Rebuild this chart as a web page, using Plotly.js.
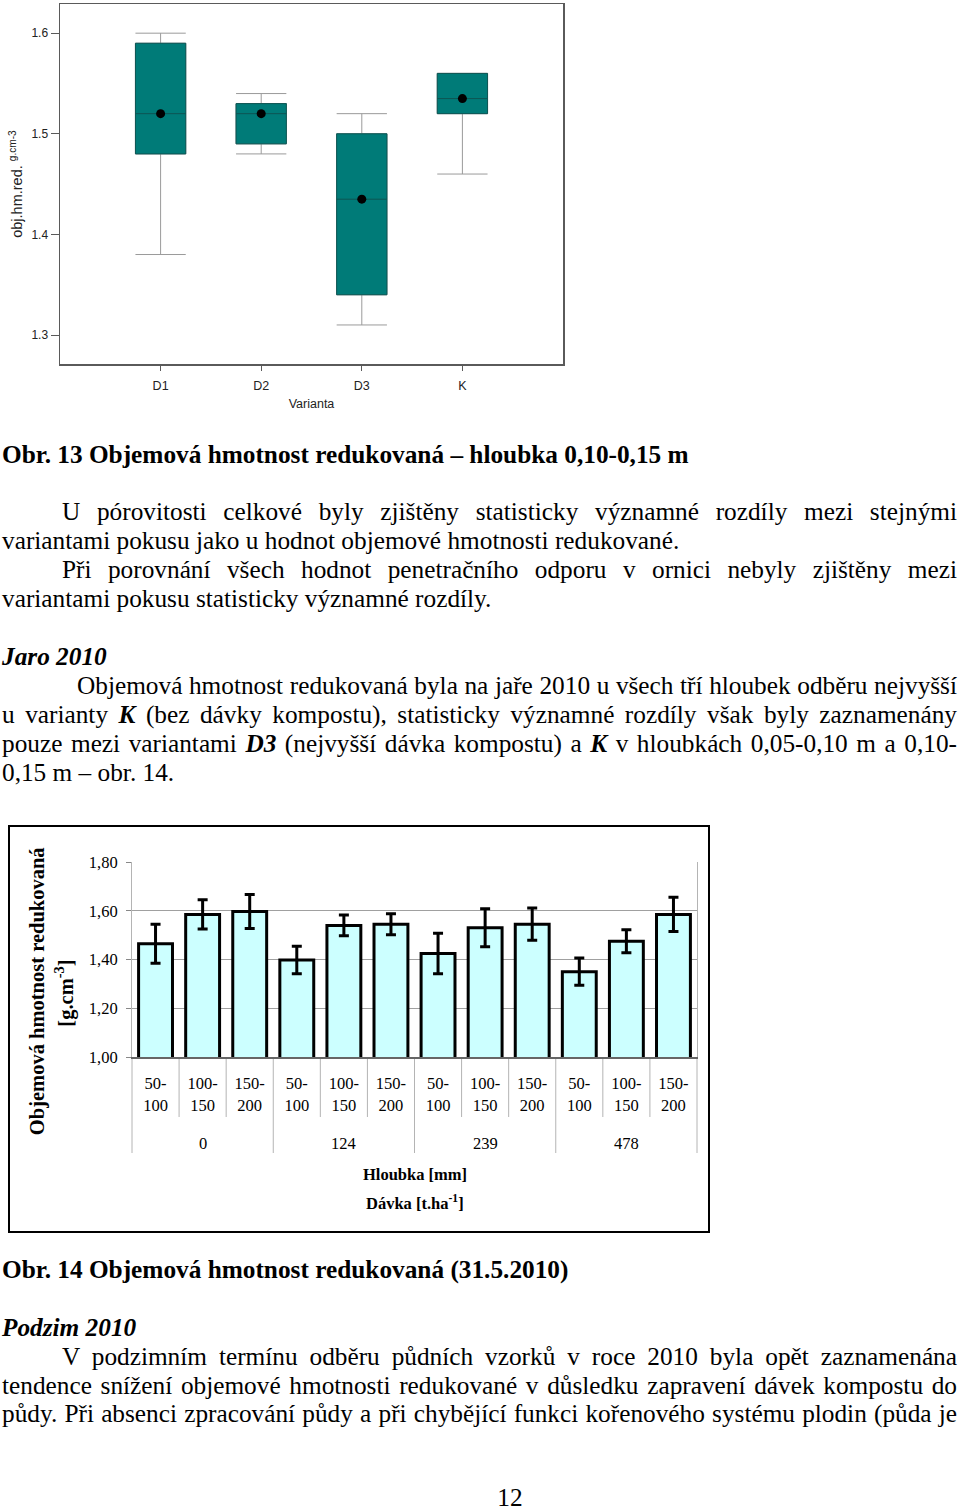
<!DOCTYPE html>
<html>
<head>
<meta charset="utf-8">
<script src="https://cdn.plot.ly/plotly-3.0.1.min.js"></script>
<style>
  html, body { margin: 0; padding: 0; background: #fff; }
  #page { position: relative; width: 960px; height: 1511px; overflow: hidden; background: #fff;
          font-family: "Liberation Serif", "Times New Roman", serif; color: #000; }
  .ln { position: absolute; left: 2px; width: 955px; font-size: 25.3px; line-height: 29px; white-space: nowrap; }
  .b { font-weight: bold; }
  .bi { font-weight: bold; font-style: italic; }
  #box { position: absolute; left: 0; top: 0; width: 580px; height: 420px; }
  #bar { position: absolute; left: 8px; top: 825px; width: 702px; height: 408px; }
  #barframe { position: absolute; left: 8px; top: 825px; width: 702px; height: 408px; box-sizing: border-box;
              border: 2px solid #000; pointer-events: none; }
</style>
</head>
<body>
<div id="page">
  <div id="box"></div>

  <div class="ln b" style="top:440px;">Obr. 13 Objemová hmotnost redukovaná – hloubka 0,10-0,15 m</div>

  <div class="ln j" data-indent="60" style="top:497px;">U pórovitosti celkové byly zjištěny statisticky významné rozdíly mezi stejnými</div>
  <div class="ln" style="top:526px;">variantami pokusu jako u hodnot objemové hmotnosti redukované.</div>
  <div class="ln j" data-indent="60" style="top:555px;">Při porovnání všech hodnot penetračního odporu v ornici nebyly zjištěny mezi</div>
  <div class="ln" style="top:584px;">variantami pokusu statisticky významné rozdíly.</div>

  <div class="ln bi" style="top:642px;">Jaro 2010</div>
  <div class="ln j" data-indent="75" style="top:671px;">Objemová hmotnost redukovaná byla na jaře 2010 u všech tří hloubek odběru nejvyšší</div>
  <div class="ln j" style="top:700px;">u varianty <span class="bi">K</span> (bez dávky kompostu), statisticky významné rozdíly však byly zaznamenány</div>
  <div class="ln j" style="top:729px;">pouze mezi variantami <span class="bi">D3</span> (nejvyšší dávka kompostu) a <span class="bi">K</span> v hloubkách 0,05-0,10 m a 0,10-</div>
  <div class="ln" style="top:758px;">0,15 m – obr. 14.</div>

  <div id="bar"></div>
  <div id="barframe"></div>

  <div class="ln b" style="top:1255px;">Obr. 14 Objemová hmotnost redukovaná (31.5.2010)</div>

  <div class="ln bi" style="top:1313px;">Podzim 2010</div>
  <div class="ln j" data-indent="60" style="top:1342px;">V podzimním termínu odběru půdních vzorků v roce 2010 byla opět zaznamenána</div>
  <div class="ln j" style="top:1371px;">tendence snížení objemové hmotnosti redukované v důsledku zapravení dávek kompostu do</div>
  <div class="ln j" style="top:1399px;">půdy. Při absenci zpracování půdy a při chybějící funkci kořenového systému plodin (půda je</div>

  <div class="ln" style="top:1486px; left:470px; width:80px; line-height:22px; text-align:center;">12</div>
</div>

<script>
// ---------- Obr. 13 : box plot data ----------
const variants = ['D1', 'D2', 'D3', 'K'];
const q1 = [1.48, 1.49, 1.34, 1.52];
const median = [1.52, 1.52, 1.435, 1.535];
const q3 = [1.59, 1.53, 1.50, 1.56];
const whiskerLow = [1.38, 1.48, 1.31, 1.46];
const whiskerHigh = [1.60, 1.54, 1.52, 1.56];
const means = [1.52, 1.52, 1.435, 1.535];
const boxTicks = [1.3, 1.4, 1.5, 1.6];

// ---------- Obr. 14 : bar chart data ----------
const doses = ['0', '0', '0', '124', '124', '124', '239', '239', '239', '478', '478', '478'];
const depths = ['50-<br>100', '100-<br>150', '150-<br>200',
                '50-<br>100', '100-<br>150', '150-<br>200',
                '50-<br>100', '100-<br>150', '150-<br>200',
                '50-<br>100', '100-<br>150', '150-<br>200'];
const density = [1.465, 1.585, 1.597, 1.398, 1.540, 1.545, 1.425, 1.530, 1.545, 1.350, 1.475, 1.585];
const densitySd = [0.080, 0.060, 0.070, 0.056, 0.043, 0.043, 0.083, 0.078, 0.066, 0.056, 0.047, 0.070];
const barTicks = [1.0, 1.2, 1.4, 1.6, 1.8];

// ---------- justify text lines exactly (one line each) ----------
document.querySelectorAll('.ln.j').forEach(function (el) {
  const indent = parseFloat(el.dataset.indent || '0');
  el.style.paddingLeft = indent + 'px';
  el.style.width = (955 - indent) + 'px';
  const target = 955 - indent;
  const probe = el.cloneNode(true);
  probe.style.width = 'auto';
  probe.style.paddingLeft = '0';
  probe.style.visibility = 'hidden';
  el.parentNode.appendChild(probe);
  const natural = probe.getBoundingClientRect().width;
  probe.remove();
  const spaces = (el.textContent.match(/ /g) || []).length;
  if (spaces > 0) el.style.wordSpacing = ((target - natural) / spaces) + 'px';
});

const teal = '#007b78';
const sansFont = 'Liberation Sans, Arial, sans-serif';
const serifFont = 'Liberation Serif, Times New Roman, serif';

// ---------- box plot ----------
const whiskerTrace = {
  type: 'box', x: variants, q1: q1, median: median, q3: q3,
  lowerfence: whiskerLow, upperfence: whiskerHigh,
  fillcolor: teal, line: { color: '#9a9a9a', width: 1 },
  whiskerwidth: 1, width: 0.5, boxpoints: false, showlegend: false
};
const boxTrace = {
  type: 'box', x: variants, q1: q1, median: median, q3: q3,
  lowerfence: q1, upperfence: q3,
  fillcolor: teal, line: { color: '#0d5553', width: 1 },
  whiskerwidth: 0, width: 0.5, boxpoints: false, showlegend: false
};
const meanTrace = {
  type: 'scatter', mode: 'markers', x: variants, y: means,
  marker: { color: '#000', size: 9 }, showlegend: false
};

Plotly.newPlot('box', [whiskerTrace, boxTrace, meanTrace], {
  width: 580, height: 420,
  margin: { l: 60, r: 17, t: 4, b: 56 },
  paper_bgcolor: '#fff', plot_bgcolor: '#fff',
  boxmode: 'overlay',
  font: { family: sansFont, size: 12, color: '#222' },
  showlegend: false,
  xaxis: {
    type: 'category', range: [-1, 4], showgrid: false, zeroline: false,
    showline: true, mirror: true, linecolor: '#5a5a5a', linewidth: 1.5,
    ticks: 'outside', ticklen: 5, tickcolor: '#5a5a5a',
    tickfont: { size: 12.5 }, ticklabelstandoff: 4,
    title: { text: 'Varianta', font: { size: 12.5 }, standoff: 7 }
  },
  yaxis: {
    range: [1.2712, 1.629], tickvals: boxTicks, tickformat: '.1f', showgrid: false, zeroline: false,
    showline: true, mirror: true, linecolor: '#5a5a5a', linewidth: 1.5,
    ticks: 'outside', ticklen: 8, tickcolor: '#5a5a5a',
    title: { text: 'obj.hm.red. <sup>g.cm-3</sup>', font: { size: 14.5 }, standoff: 5 }
  }
}, { staticPlot: true });

// ---------- bar chart ----------
const idx = density.map(function (_, i) { return i; });
const boundaries = idx.map(function (i) { return i - 0.5; }).concat([idx.length - 0.5]);
const groupNames = [];
const groupBounds = [-0.5];
const groupCenters = [];
doses.forEach(function (d, i) {
  if (i === 0 || d !== doses[i - 1]) { groupNames.push(d); if (i > 0) groupBounds.push(i - 0.5); }
});
groupBounds.push(idx.length - 0.5);
for (let g = 0; g < groupNames.length; g++) groupCenters.push((groupBounds[g] + groupBounds[g + 1]) / 2);
const xr = [-0.5, idx.length - 0.5];
const toPaper = function (v) { return (v - xr[0]) / (xr[1] - xr[0]); };

const plotHeight = 408 - 37 - 176;
const dividerColor = '#b4b4b4';
const dividerShapes = [];
boundaries.forEach(function (b) {
  const isGroup = groupBounds.indexOf(b) >= 0;
  dividerShapes.push({
    type: 'line', xref: 'paper', yref: 'paper', x0: toPaper(b), x1: toPaper(b),
    y0: 0, y1: -(isGroup ? 96 : 60) / plotHeight,
    line: { color: dividerColor, width: 1 }, layer: 'below'
  });
});

const groupLabels = groupNames.map(function (name, g) {
  return {
    text: name, xref: 'x', yref: 'paper', x: groupCenters[g], y: 0, yshift: -86,
    xanchor: 'center', yanchor: 'middle', showarrow: false,
    font: { family: serifFont, size: 16.5, color: '#000' }
  };
});

const barTrace = {
  type: 'bar', x: idx, y: density,
  marker: { color: '#ccffff', line: { color: '#000', width: 3 } },
  error_y: { type: 'data', array: densitySd, visible: true, color: '#000', thickness: 3, width: 5 },
  showlegend: false
};

Plotly.newPlot('bar', [barTrace], {
  width: 702, height: 408,
  margin: { l: 124, r: 13, t: 37, b: 176 },
  paper_bgcolor: '#fff', plot_bgcolor: '#fff',
  separators: ',.',
  bargap: 0.28,
  font: { family: serifFont, size: 16.5, color: '#000' },
  showlegend: false,
  xaxis: {
    range: xr, tickvals: idx, ticktext: depths, ticks: '', ticklabelstandoff: 11,
    showline: true, linecolor: '#666', linewidth: 1.5, showgrid: false, zeroline: false
  },
  yaxis: {
    range: [1, 1.8], tickvals: barTicks, tickformat: '.2f',
    showgrid: true, gridcolor: '#a0a0a0', gridwidth: 1, zeroline: false,
    showline: true, mirror: true, linecolor: dividerColor, linewidth: 1,
    ticks: 'outside', ticklen: 5, tickcolor: '#888', ticklabelstandoff: 5
  },
  shapes: dividerShapes,
  annotations: groupLabels.concat([
    { text: '<b>Objemová hmotnost redukovaná</b>', textangle: -90, xref: 'paper', yref: 'paper',
      x: -0.168, y: 0.338, xanchor: 'center', yanchor: 'middle', showarrow: false,
      font: { family: serifFont, size: 20.5, color: '#000' } },
    { text: '<b>[g.cm<sup>-3</sup>]</b>', textangle: -90, xref: 'paper', yref: 'paper',
      x: -0.1186, y: 0.33, xanchor: 'center', yanchor: 'middle', showarrow: false,
      font: { family: serifFont, size: 20.5, color: '#000' } },
    { text: '<b>Hloubka [mm]</b>', xref: 'paper', yref: 'paper', x: 0.5, y: -0.605,
      xanchor: 'center', yanchor: 'middle', showarrow: false,
      font: { family: serifFont, size: 16.5, color: '#000' } },
    { text: '<b>Dávka [t.ha<sup>-1</sup>]</b>', xref: 'paper', yref: 'paper', x: 0.5, y: -0.745,
      xanchor: 'center', yanchor: 'middle', showarrow: false,
      font: { family: serifFont, size: 16.5, color: '#000' } }
  ])
}, { staticPlot: true });
</script>
</body>
</html>
